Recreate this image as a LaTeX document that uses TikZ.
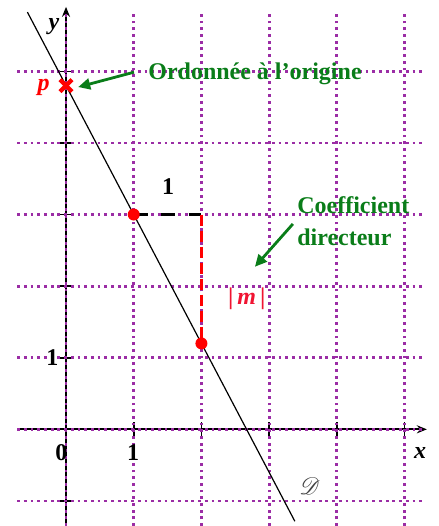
\documentclass[tikz,border=0pt]{standalone}
\usepackage{fontspec}
\setmainfont{Liberation Serif}
\usepackage{mathrsfs}
\usetikzlibrary{arrows.meta}
\definecolor{gridpurple}{RGB}{155,45,165}
\definecolor{ptgreen}{RGB}{10,125,25}
\definecolor{mred}{RGB}{240,20,50}
\begin{document}
\begin{tikzpicture}[x=33.85pt,y=35.8pt,
  gridline/.style={gridpurple,line width=1.4pt,dash pattern=on 1.4pt off 1.95pt},
  axisline/.style={black,line width=1pt,-{Stealth[length=5pt,width=4pt]}},
  tickmark/.style={black,line width=0.8pt},
  lbl/.style={font=\fontsize{12}{14}\selectfont\bfseries,inner sep=0pt},
  note/.style={font=\fontsize{12}{16}\selectfont\bfseries,text=ptgreen,inner sep=0pt},
  callout/.style={ptgreen,line width=1.4pt,-{Triangle[length=6pt,width=5.5pt]}},
  dot/.style={circle,fill=red,inner sep=0pt,minimum size=6pt},
  crossmark/.style={red,line width=2.2pt},
]
\useasboundingbox (-0.975,-1.35) rectangle (5.495,5.996);

% axes
\draw[axisline] (-0.72,0) -- (5.33,0);
\draw[axisline] (0,-1.35) -- (0,5.9);
% ticks
\foreach \i in {1,...,5} \draw[tickmark] (\i,-0.1) -- (\i,0.1);
\foreach \j in {-1,1,2,3,4,5} \draw[tickmark] (-0.1,\j) -- (0.1,\j);
% grid
\foreach \i in {0,...,5} \draw[gridline] (\i,-1.35) -- (\i,5.85);
\foreach \j in {-1,...,5} \draw[gridline] (-0.72,\j) -- (5.3,\j);

% line D
\coordinate (dA) at (-0.57,5.826);
\coordinate (dB) at (3.38,-1.284);
\draw[black,line width=0.6pt] (dA) -- (dB);

% key points
\coordinate (P) at (0,4.8);
\coordinate (A) at (1,3);
\coordinate (C) at (2,3);
\coordinate (B) at (2,1.2);

\draw[black,line width=1.5pt,dash pattern=on 7pt off 6.7pt] (A) -- (C);
\draw[red,line width=1.1pt,dash pattern=on 5.5pt off 2.5pt] (C) -- (B);

\node[dot] (ptA) at (A) {};
\node[dot] (ptB) at (B) {};
\draw[crossmark] ([shift={(-3pt,-3pt)}]P) -- ([shift={(3pt,3pt)}]P);
\draw[crossmark] ([shift={(-3pt,3pt)}]P) -- ([shift={(3pt,-3pt)}]P);

% labels
\node[lbl] (ylab) at (-0.18,5.63) {\itshape y};
\node[lbl] (xlab) at (5.23,-0.33) {\itshape x};
\node[lbl] (zero) at (-0.07,-0.32) {0};
\node[lbl] (onex) at (0.99,-0.32) {1};
\node[lbl] (oney) at (-0.2,1.0) {1};
\node[lbl,text=red] (plab) at (-0.33,4.77) {\itshape p};
\node[inner sep=0pt,text=black!75] (dlab) at (3.6,-0.79) {\fontsize{12}{14}\selectfont$\mathscr{D}$};
\node[lbl] (run) at (1.51,3.39) {1};
\node[lbl,text=mred] (mlab) at (2.67,1.82) {|\,\itshape m\,\upshape|};

% notes
\node[note,anchor=base west] (ord) at (1.21,4.88) {Ordonnée à l'origine};
\node[note,align=left,anchor=north west] (coef) at (3.41,3.25) {Coefficient\\directeur};

\coordinate (pTip) at (0.18,4.78);
\coordinate (mTip) at (2.79,2.27);
\draw[callout] ([xshift=-7pt,yshift=1pt]ord.west) -- (pTip);
\draw[callout] ([xshift=-2pt,yshift=-4pt]coef.north west |- 3.31,2.98) -- (mTip);
\end{tikzpicture}
\end{document}
